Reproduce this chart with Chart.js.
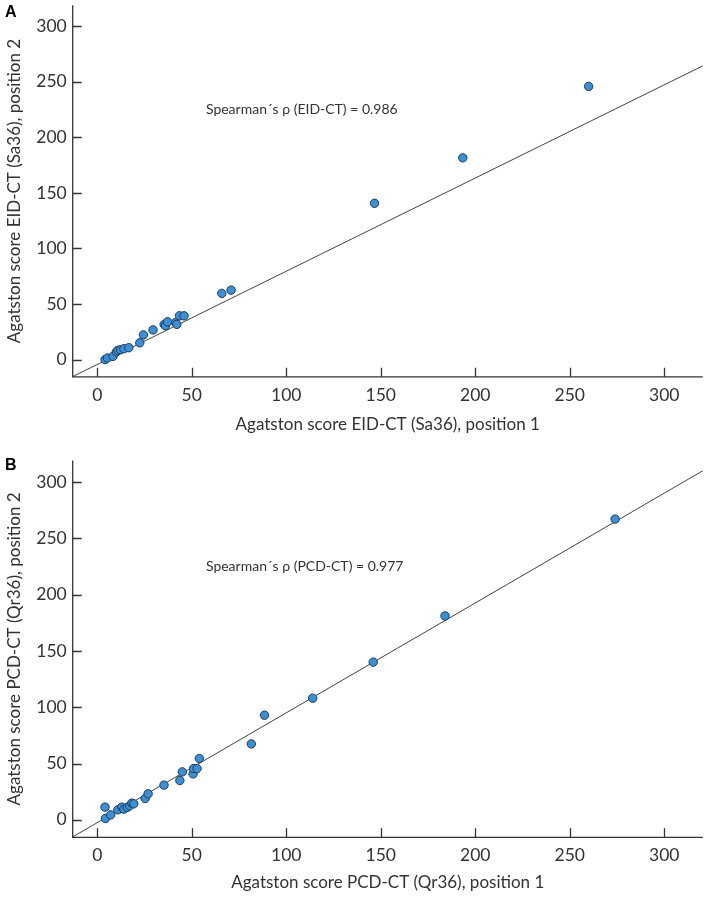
<!DOCTYPE html>
<html>
<head>
<meta charset="utf-8">
<script src="https://cdn.jsdelivr.net/npm/chart.js@4.4.1/dist/chart.umd.min.js"></script>
<style>
  html, body { margin: 0; padding: 0; background: #fff; }
  #wrap { position: relative; width: 708px; height: 897px; }
  canvas { position: absolute; left: 0; }
</style>
</head>
<body>
<div id="wrap">
  <canvas id="chartA" width="708" height="448" style="top:0"></canvas>
  <canvas id="chartB" width="708" height="449" style="top:448px"></canvas>
</div>
<script>
// panel A: EID-CT, position 1 vs position 2
const eidPos1 = [4.1, 5.4, 8.3, 10.1, 10.9, 12.3, 14.1, 16.7, 22.5, 24.4, 29.5, 35.4, 36.1, 37.2, 41.4, 42.1, 43.5, 45.9, 65.9, 70.8, 146.7, 193.4, 260];
const eidPos2 = [0, 1.4, 2.9, 6.8, 8.3, 8.9, 9.8, 10.7, 15.1, 22.2, 26.7, 31.7, 30.5, 34, 33.2, 31.7, 39.4, 39.4, 59.6, 62.5, 140.7, 181.6, 245.9];
const eidFit = [0.839, -4.4]; // slope, intercept

// panel B: PCD-CT, position 1 vs position 2
const pcdPos1 = [4.1, 4.3, 7.1, 10.9, 13, 14.1, 15.8, 17.1, 18.3, 19.3, 25.3, 26.9, 35.3, 43.7, 45, 50.7, 51, 52.8, 54, 81.5, 88.5, 114, 146, 184, 274];
const pcdPos2 = [11.3, 1.2, 4.4, 8.9, 11.3, 9.5, 11, 12.4, 14.8, 14.2, 18.9, 23.1, 30.8, 34.9, 42.6, 40.8, 45.5, 45.5, 54.4, 67.4, 92.9, 108, 140, 181, 267];
const pcdFit = [0.975, -2.5];

const xTicks = [0, 50, 100, 150, 200, 250, 300];
const yTicks = [0, 50, 100, 150, 200, 250, 300];
const X_MIN = -13, X_MAX = 320.4;
const Y_MIN = -15.5, Y_MAX = 319;

const INK = '#333333';
const DOT = '#3b8fd4';
const DOT_EDGE = '#1d3a5a';

// axis lines with inward tick marks, the rho note and the panel letter
const innerAxes = {
    id: 'innerAxes',
    afterDraw(chart, args, opts) {
        const {ctx, chartArea: a, scales: {x, y}} = chart;
        ctx.save();
        ctx.strokeStyle = INK;
        ctx.lineWidth = 1.3;
        ctx.beginPath();
        ctx.moveTo(a.left, a.top);
        ctx.lineTo(a.left, a.bottom);
        ctx.lineTo(a.right, a.bottom);
        x.ticks.forEach(t => {
            const px = Math.round(x.getPixelForValue(t.value)) + 0.5;
            ctx.moveTo(px, a.bottom);
            ctx.lineTo(px, a.bottom - 9);
        });
        y.ticks.forEach(t => {
            const py = Math.round(y.getPixelForValue(t.value)) + 0.5;
            ctx.moveTo(a.left, py);
            ctx.lineTo(a.left + 9, py);
        });
        ctx.stroke();

        ctx.fillStyle = INK;
        ctx.font = '14px Lato';
        ctx.textBaseline = 'middle';
        ctx.fillText(opts.note, x.getPixelForValue(opts.noteAt[0]), y.getPixelForValue(opts.noteAt[1]));

        ctx.fillStyle = '#000';
        ctx.font = 'bold 16px "Liberation Sans"';
        ctx.textBaseline = 'alphabetic';
        ctx.fillText(opts.letter, 5, opts.letterY);
        ctx.restore();
    }
};

function makePanel(canvasId, xs, ys, fit, cfg) {
    const points = xs.map((v, i) => ({x: v, y: ys[i]}));
    const line = [X_MIN, X_MAX].map(v => ({x: v, y: fit[0] * v + fit[1]}));
    const tickFont = {family: 'Lato', size: 17.5};
    const titleFont = {family: 'Lato', size: 17};

    return new Chart(document.getElementById(canvasId), {
        type: 'scatter',
        data: {
            datasets: [{
                data: points,
                backgroundColor: DOT,
                borderColor: DOT_EDGE,
                borderWidth: 1,
                pointRadius: 4.2
            }, {
                type: 'line',
                data: line,
                borderColor: '#444',
                borderWidth: 1,
                pointRadius: 0,
                fill: false
            }]
        },
        options: {
            responsive: false,
            animation: false,
            devicePixelRatio: 1,
            layout: {padding: {top: cfg.padTop, bottom: cfg.padBottom, left: 0, right: 1.3}},
            plugins: {
                legend: {display: false},
                tooltip: {enabled: false},
                innerAxes: {note: cfg.note, noteAt: [57.5, 225], letter: cfg.letter, letterY: cfg.letterY}
            },
            scales: {
                x: {
                    type: 'linear',
                    min: X_MIN,
                    max: X_MAX,
                    afterBuildTicks: s => { s.ticks = xTicks.map(v => ({value: v})); },
                    afterFit: s => {
                        s.height = cfg.xHeight;
                        s.paddingLeft = 0;
                        s.paddingRight = 0;
                    },
                    grid: {display: false, drawTicks: false},
                    border: {display: false},
                    ticks: {color: INK, font: tickFont, padding: 8, maxRotation: 0},
                    title: {display: true, text: cfg.xTitle, color: INK, font: titleFont, padding: {top: 4, bottom: 4}}
                },
                y: {
                    type: 'linear',
                    min: Y_MIN,
                    max: Y_MAX,
                    afterBuildTicks: s => { s.ticks = yTicks.map(v => ({value: v})); },
                    afterFit: s => {
                        s.width = 72.7;
                        s.paddingTop = 0;
                        s.paddingBottom = 0;
                    },
                    grid: {display: false, drawTicks: false},
                    border: {display: false},
                    ticks: {color: INK, font: tickFont, padding: 6},
                    title: {display: true, text: cfg.yTitle, color: INK, font: titleFont, padding: {top: 4.8, bottom: 0}}
                }
            }
        },
        plugins: [innerAxes]
    });
}

makePanel('chartA', eidPos1, eidPos2, eidFit, {
    padTop: 0, padBottom: 9, xHeight: 62.2,
    note: 'Spearman\u00b4s \u03c1 (EID-CT) = 0.986',
    letter: 'A', letterY: 17,
    xTitle: 'Agatston score EID-CT (Sa36), position 1',
    yTitle: 'Agatston score EID-CT (Sa36), position 2'
});

makePanel('chartB', pcdPos1, pcdPos2, pcdFit, {
    padTop: 12.5, padBottom: 0, xHeight: 59.7,
    note: 'Spearman\u00b4s \u03c1 (PCD-CT) = 0.977',
    letter: 'B', letterY: 22,
    xTitle: 'Agatston score PCD-CT (Qr36), position 1',
    yTitle: 'Agatston score PCD-CT (Qr36), position 2'
});
</script>
</body>
</html>
